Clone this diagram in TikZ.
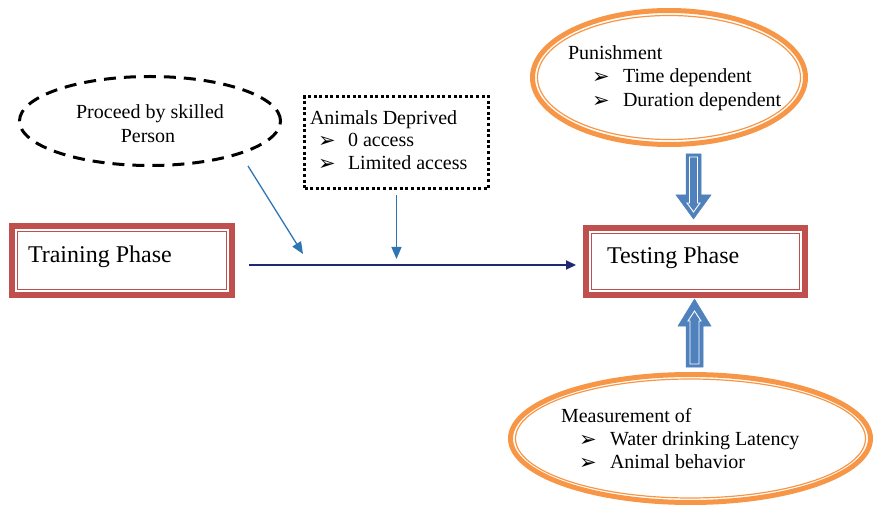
\documentclass[tikz,border=0pt]{standalone}
\usepackage{fontspec}
\setmainfont{Liberation Serif}
\newfontfamily\dvs{DejaVu Sans}
\usetikzlibrary{arrows.meta,shapes.geometric}
\definecolor{boxred}{HTML}{C0504D}
\definecolor{ellor}{HTML}{F79646}
\definecolor{blockblue}{HTML}{4F81BD}
\definecolor{thinblue}{HTML}{2E75B6}
\definecolor{navy}{HTML}{1F2A6E}
\begin{document}
\begin{tikzpicture}[x=1pt,y=-1pt,
  every node/.style={inner sep=0pt, outer sep=0pt},
  txt/.style={anchor=base west, font=\fontsize{20}{24}\selectfont},
  ctxt/.style={anchor=base, font=\fontsize{20}{24}\selectfont},
  bigtxt/.style={anchor=base west, font=\fontsize{24}{28}\selectfont},
  bul/.style={anchor=base west, font=\dvs\fontsize{21}{24}\selectfont},
  phasebox/.style={draw=boxred, line width=6pt, rectangle},
  ovalbox/.style={draw=ellor, line width=5pt, ellipse},
  thinarrow/.style={draw=thinblue, line width=1.3pt, -{Triangle[length=12pt,width=10pt]}},
  mainline/.style={draw=navy, line width=2pt, -{Triangle[length=10pt,width=9pt]}},
  blockarrow/.style={fill=blockblue, draw=blockblue, line width=0.5pt},
  blockinner/.style={draw=white, line width=0.9pt}
]
\useasboundingbox (0,0) rectangle (873,505);

% Training phase
\node[phasebox, minimum width=220pt, minimum height=69pt] (tr) at (122,260.5) {};
\draw[boxred, line width=1.2pt] ([xshift=5.5pt,yshift=-5.5pt]tr.north west) rectangle ([xshift=-5.5pt,yshift=5.5pt]tr.south east);
\node[bigtxt] (trt) at (28,262) {Training Phase};

% Testing phase
\node[phasebox, minimum width=219pt, minimum height=67pt] (ts) at (695.5,261.5) {};
\draw[boxred, line width=1.2pt] ([xshift=5.5pt,yshift=-5.5pt]ts.north west) rectangle ([xshift=-5.5pt,yshift=5.5pt]ts.south east);
\node[bigtxt] (tst) at (607,264) {Testing Phase};

% Proceed by skilled person
\node[draw=black, line width=3pt, dash pattern=on 12pt off 8pt, ellipse, minimum width=261pt, minimum height=89pt] (pr) at (150,121) {};
\node[ctxt] (pr1) at (150,119) {Proceed by skilled};
\node[ctxt] (pr2) at (148,143) {Person};

% Animals deprived
\node[draw=black, line width=3pt, dash pattern=on 3pt off 2.6pt, rectangle, minimum width=184pt, minimum height=92pt] (dep) at (396.5,142.5) {};
\node[txt] (dep0) at (310,125) {Animals Deprived};
\node[bul] (depb1) at (318,148) {➢};
\node[txt] (dep1) at (348,147) {0 access};
\node[bul] (depb2) at (318,171) {➢};
\node[txt] (dep2) at (348,170) {Limited access};

% Punishment
\node[ovalbox, minimum width=273pt, minimum height=134pt] (pun) at (669,77.5) {};
\draw[ellor, line width=1.2pt] (pun.center) ellipse [x radius=131.5, y radius=62];
\node[txt] (pun0) at (568,60) {Punishment};
\node[bul] (punb1) at (592,84) {➢};
\node[txt] (pun1) at (623,83) {Time dependent};
\node[bul] (punb2) at (592,108) {➢};
\node[txt] (pun2) at (623,107) {Duration dependent};

% Measurement
\node[ovalbox, minimum width=360pt, minimum height=128pt] (mea) at (690.5,438.5) {};
\draw[ellor, line width=1.2pt] (mea.center) ellipse [x radius=175, y radius=59.5];
\node[txt] (mea0) at (561,422) {Measurement of};
\node[bul] (meab1) at (579,446) {➢};
\node[txt] (mea1) at (610,445) {Water drinking Latency};
\node[bul] (meab2) at (579,469) {➢};
\node[txt] (mea2) at (610,468) {Animal behavior};

% connectors
\coordinate (mlA) at ([shift={(17,4.5)}]tr.east);
\coordinate (mlB) at ([shift={(-10,3.5)}]ts.west);
\draw[mainline] (mlA) -- (mlB);
\coordinate (d2) at (303,254);
\draw[thinarrow] ([shift={(98,45)}]pr.center) -- (d2);
\coordinate (a2) at (396.5,259);
\draw[thinarrow] ([yshift=-7pt]dep.south) -- (a2);

% block arrow down (Punishment -> Testing)
\draw[blockarrow] (686,154) -- (701,154) -- (701,195) -- (711,195) -- (693.5,219) -- (676,195) -- (686,195) -- cycle;
\draw[blockinner] (689.5,157) -- (697.5,157) -- (697.5,203) -- (700,203) -- (693.5,212) -- (687,203) -- (689.5,203) -- cycle;

% block arrow up (Measurement -> Testing)
\draw[blockarrow] (694.5,299) -- (711,326) -- (703,326) -- (703,367) -- (686,367) -- (686,326) -- (678,326) -- cycle;
\draw[blockinner] (694.5,311) -- (701,321) -- (699,321) -- (699,364) -- (690,364) -- (690,321) -- (688,321) -- cycle;
\end{tikzpicture}
\end{document}
